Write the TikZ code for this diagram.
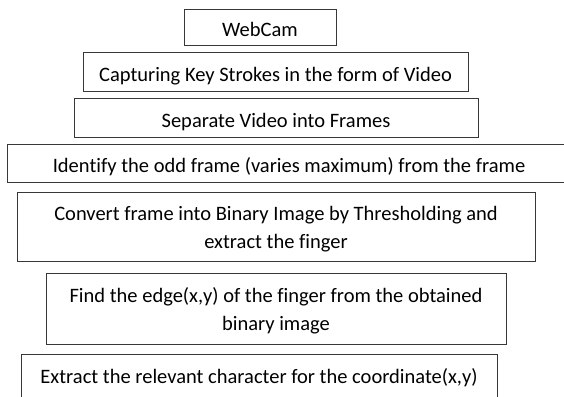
\documentclass[tikz,border=0pt]{standalone}
\usepackage{fontspec}
\setmainfont[Ligatures=NoCommon]{Carlito}
\begin{document}
\begin{tikzpicture}[x=1pt,y=-1pt,
  stepbox/.style={draw=black!78, line width=0.9pt, rectangle, inner sep=0pt,
    text=black, font=\fontsize{20.5}{28}\selectfont, align=center,
    text height=19pt, text depth=0pt},
  twoline/.style={text height=44pt}]
\useasboundingbox (0,0) rectangle (564,396);
\clip (0,0) rectangle (564,396);
\node[stepbox, minimum width=152pt, minimum height=35.5pt] (webcam) at (260,27.25) {WebCam};
\node[stepbox, minimum width=385pt, minimum height=39pt] (capture) at (275.5,71.5) {Capturing Key Strokes in the form of Video};
\node[stepbox, minimum width=404pt, minimum height=39pt] (separate) at (276,117.5) {Separate Video into Frames};
\node[stepbox, minimum width=564pt, minimum height=38pt] (identify) at (289,163) {Identify the odd frame (varies maximum) from the frame};
\node[stepbox, twoline, minimum width=518pt, minimum height=69pt] (convert) at (276,226.5) {Convert frame into Binary Image by Thresholding and\\extract the finger};
\node[stepbox, twoline, text height=43pt, minimum width=460pt, minimum height=70.5pt] (edge) at (276,308.75) {Find the edge(x,y) of the finger from the obtained\\binary image};
\node[stepbox, text height=13pt, minimum width=476pt, minimum height=44pt] (extract) at (259,376.5) {Extract the relevant character for the coordinate(x,y)};
\end{tikzpicture}
\end{document}
